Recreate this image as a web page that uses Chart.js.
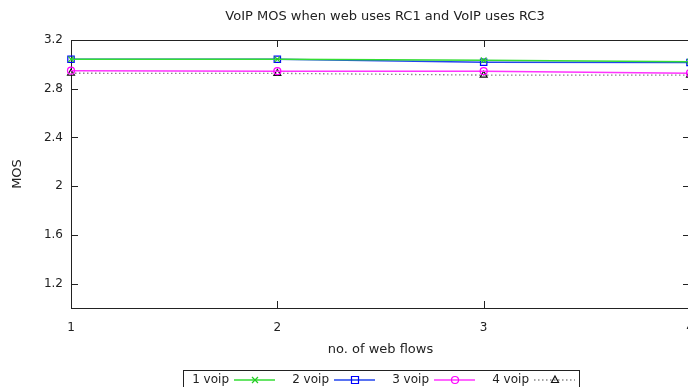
<!DOCTYPE html>
<html>
<head>
<meta charset="utf-8">
<script src="https://cdn.jsdelivr.net/npm/chart.js@4/dist/chart.umd.min.js"></script>
<style>
  html, body { margin: 0; padding: 0; overflow: hidden; background: #fff; }
</style>
</head>
<body>
<canvas id="chart" width="770" height="395"></canvas>
<script>
// data
const webFlows = [1, 2, 3, 4];
const voip1 = [3.042, 3.042, 3.033, 3.022];
const voip2 = [3.042, 3.042, 3.018, 3.015];
const voip3 = [2.948, 2.944, 2.944, 2.928];
const voip4 = [2.927, 2.926, 2.912, 2.911];
const yTicks = [1.2, 1.6, 2, 2.4, 2.8, 3.2];
const seriesNames = ["1 voip", "2 voip", "3 voip", "4 voip"];

Chart.defaults.font.family = "'DejaVu Sans', Verdana, sans-serif";
Chart.defaults.font.size = 12;
Chart.defaults.color = "#222";

const toPoints = (vals) => vals.map((v, i) => ({ x: webFlows[i], y: v }));

// gnuplot style frame with ticks pointing inward
const framePlugin = {
    id: "frame",
    beforeDatasetsDraw(chart) {
        const { ctx, chartArea: a, scales } = chart;
        ctx.save();
        ctx.strokeStyle = "#222";
        ctx.lineWidth = 1;
        ctx.strokeRect(a.left + 0.5, a.top + 0.5, a.right - a.left, a.bottom - a.top);
        ctx.beginPath();
        scales.y.ticks.forEach((t) => {
            const y = Math.round(scales.y.getPixelForValue(t.value)) + 0.5;
            ctx.moveTo(a.left, y); ctx.lineTo(a.left + 7, y);
            ctx.moveTo(a.right, y); ctx.lineTo(a.right - 7, y);
        });
        scales.x.ticks.forEach((t) => {
            const x = Math.round(scales.x.getPixelForValue(t.value)) + 0.5;
            ctx.moveTo(x, a.bottom); ctx.lineTo(x, a.bottom - 7);
            ctx.moveTo(x, a.top); ctx.lineTo(x, a.top + 7);
        });
        ctx.stroke();
        ctx.restore();
    },
};

function drawMarker(ctx, style, x, y) {
    ctx.beginPath();
    if (style === "crossRot") {
        ctx.moveTo(x - 3, y - 3); ctx.lineTo(x + 3, y + 3);
        ctx.moveTo(x + 3, y - 3); ctx.lineTo(x - 3, y + 3);
    } else if (style === "rect") {
        ctx.rect(x - 3.5, y - 3.5, 7, 7);
    } else if (style === "circle") {
        ctx.arc(x, y, 3.5, 0, Math.PI * 2);
    } else if (style === "triangle") {
        ctx.moveTo(x, y - 4); ctx.lineTo(x + 3.5, y + 2.5); ctx.lineTo(x - 3.5, y + 2.5); ctx.closePath();
    }
    ctx.stroke();
}

// boxed legend below the axis title, sample to the right of the text
const boxLegend = {
    id: "boxLegend",
    afterDraw(chart) {
        const { ctx, chartArea: a } = chart;
        const boxW = 396;
        const left = Math.round((a.left + a.right) / 2 - boxW / 2);
        const top = a.bottom + 62;
        ctx.save();
        ctx.strokeStyle = "#222";
        ctx.lineWidth = 1;
        ctx.strokeRect(left + 0.5, top + 0.5, boxW, 30);
        const cy = top + 10;
        chart.data.datasets.forEach((ds, i) => {
            const textEnd = left + 46 + i * 100;
            ctx.fillStyle = "#222";
            ctx.font = Chart.defaults.font.size + "px " + Chart.defaults.font.family;
            ctx.textAlign = "right";
            ctx.textBaseline = "middle";
            ctx.fillText(ds.label, textEnd, cy);
            ctx.strokeStyle = ds.borderColor;
            ctx.lineWidth = ds.borderWidth;
            ctx.setLineDash(ds.borderDash || []);
            ctx.beginPath();
            ctx.moveTo(textEnd + 5, cy);
            ctx.lineTo(textEnd + 46, cy);
            ctx.stroke();
            ctx.setLineDash([]);
            ctx.strokeStyle = ds.pointBorderColor;
            ctx.lineWidth = 1.2;
            drawMarker(ctx, ds.pointStyle, textEnd + 26, cy);
        });
        ctx.restore();
    },
};

new Chart(document.getElementById("chart"), {
    type: "line",
    data: {
        datasets: [
            {
                label: seriesNames[0],
                data: toPoints(voip1),
                borderColor: "#33dd33",
                pointBorderColor: "#22cc22",
                borderWidth: 1.5,
                pointStyle: "crossRot",
                pointRadius: 4,
                pointBorderWidth: 1.2,
            },
            {
                label: seriesNames[1],
                data: toPoints(voip2),
                borderColor: "#2244ee",
                pointBorderColor: "#0000ff",
                borderWidth: 1.5,
                pointStyle: "rect",
                pointRadius: 4.5,
                pointBorderWidth: 1.2,
            },
            {
                label: seriesNames[2],
                data: toPoints(voip3),
                borderColor: "#ff33ff",
                pointBorderColor: "#ff00ff",
                borderWidth: 1.5,
                pointStyle: "circle",
                pointRadius: 3.5,
                pointBorderWidth: 1.2,
            },
            {
                label: seriesNames[3],
                data: toPoints(voip4),
                borderColor: "#888",
                pointBorderColor: "#111",
                borderWidth: 1.3,
                borderDash: [1.5, 2.5],
                pointStyle: "triangle",
                pointRadius: 4,
                pointBorderWidth: 1.2,
            },
        ],
    },
    options: {
        responsive: false,
        animation: false,
        layout: { padding: { left: 0, right: 0, top: 0, bottom: 37 } },
        elements: { point: { backgroundColor: "rgba(0,0,0,0)" }, line: { tension: 0 } },
        datasets: { line: { clip: false } },
        plugins: {
            legend: { display: false },
            tooltip: { enabled: false },
            title: {
                display: true,
                text: "VoIP MOS when web uses RC1 and VoIP uses RC3",
                font: { size: 13, weight: "normal" },
                color: "#222",
                padding: { top: 8.5, bottom: 15.9 },
            },
        },
        scales: {
            x: {
                type: "linear",
                min: 1,
                max: 4,
                ticks: { stepSize: 1, padding: 13, callback: (v) => String(v) },
                grid: { display: false, drawTicks: false },
                border: { display: false },
                title: { display: true, text: "no. of web flows", font: { size: 13 }, padding: { top: 0, bottom: 1 } },
                afterFit: (s) => { s.height = 50; },
            },
            y: {
                min: 1,
                max: 3.2,
                afterBuildTicks: (s) => { s.ticks = yTicks.map((v) => ({ value: v })); },
                ticks: { padding: 8, callback: (v) => String(v) },
                grid: { display: false, drawTicks: false },
                border: { display: false },
                title: { display: true, text: "MOS", font: { size: 13 }, padding: { top: 10, bottom: 0 } },
                afterFit: (s) => { s.width = 71; },
            },
            // empty right-hand strip: the plot runs past the page edge
            yRight: {
                position: "right",
                display: true,
                ticks: { display: false },
                grid: { display: false, drawTicks: false },
                border: { display: false },
                afterFit: (s) => { s.width = 80; },
            },
        },
    },
    plugins: [framePlugin, boxLegend],
});
</script>
</body>
</html>
